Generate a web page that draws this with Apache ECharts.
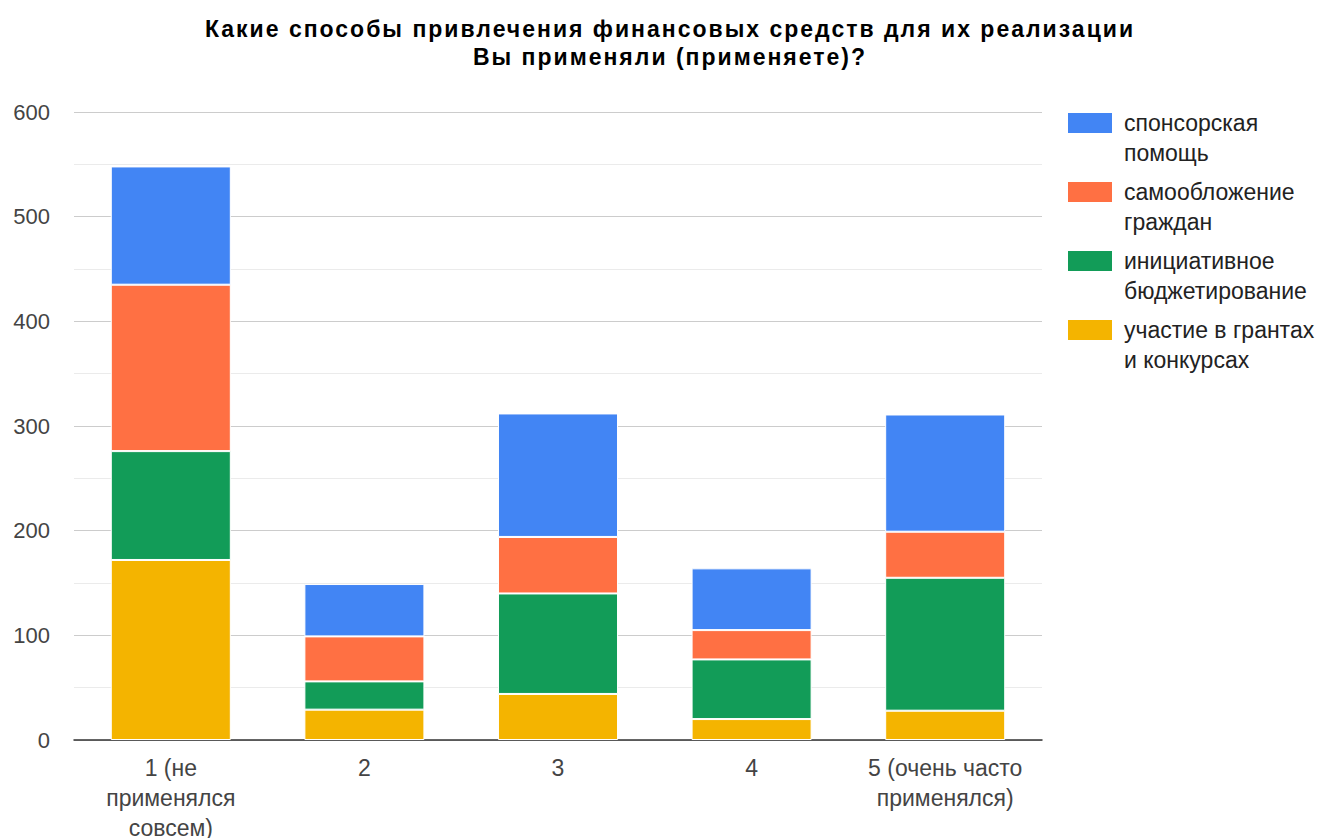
<!DOCTYPE html>
<html><head><meta charset="utf-8">
<script src="https://cdn.jsdelivr.net/npm/echarts@6/dist/echarts.min.js"></script>
<style>html,body{margin:0;padding:0;background:#fff;overflow:hidden}#c{width:1321px;height:838px}</style>
</head><body><div id="c"></div>
<script>
const categories = ['1 (не\nприменялся\nсовсем)', '2', '3', '4', '5 (очень часто\nприменялся)'];
const seriesNames = ['спонсорская\nпомощь', 'самообложение\nграждан', 'инициативное\nбюджетирование', 'участие в грантах\nи конкурсах'];
const sponsor = [113, 50, 118, 59, 112];
const selfTax = [159, 43, 54, 28, 44];
const initiative = [104, 27, 96, 57, 127];
const grants = [172, 29, 44, 20, 28];
const colors = ['#4285f4', '#ff7043', '#129c58', '#f4b400'];
const titleText = 'Какие способы привлечения финансовых средств для их реализации\nВы применяли (применяете)?';

const chart = echarts.init(document.getElementById('c'), null, {renderer: 'svg'});
const font = '"Liberation Sans", Arial, sans-serif';
function s(name, data, color) {
  return {name, type: 'bar', stack: 'a', data, barWidth: '62%',
    itemStyle: {color, borderColor: '#fff', borderWidth: 1}};
}
chart.setOption({
  animation: false,
  textStyle: {fontFamily: font},
  title: {text: titleText,
    left: 665, textAlign: 'center', top: 10,
    textStyle: {fontFamily: font, fontWeight: 'bold', fontSize: 23, lineHeight: 28, color: '#000'}},
  legend: {orient: 'vertical', left: 1066, top: 108, padding: 0, itemWidth: 46, itemHeight: 52, itemGap: 9,
    icon: 'path://M0,0h46v22h-46z M0,52h0.01v0.01h-0.01z', symbolKeepAspect: false,
    data: [seriesNames[0], seriesNames[1], seriesNames[2], seriesNames[3]],
    textStyle: {fontFamily: font, fontSize: 23, lineHeight: 30, color: '#222', padding: [0, 0, 0, 6]}},
  grid: {left: 74, right: 279, top: 112, bottom: 98, outerBoundsMode: 'none', containLabel: false},
  xAxis: {type: 'category', data: categories,
    axisLine: {lineStyle: {color: '#333', width: 1.5}}, axisTick: {show: false},
    axisLabel: {fontFamily: font, fontSize: 23, lineHeight: 30, color: '#444', margin: 13, interval: 0}},
  yAxis: {type: 'value', min: 0, max: 600, interval: 100,
    axisLine: {show: false}, axisTick: {show: false},
    axisLabel: {fontFamily: font, fontSize: 22, color: '#444', margin: 24},
    splitLine: {lineStyle: {color: '#cccccc', width: 1}},
    minorTick: {show: false, splitNumber: 2},
    minorSplitLine: {show: true, lineStyle: {color: '#ebebeb', width: 1}}},
  series: [
    s(seriesNames[3], grants, colors[3]),
    s(seriesNames[2], initiative, colors[2]),
    s(seriesNames[1], selfTax, colors[1]),
    s(seriesNames[0], sponsor, colors[0])
  ]
});
function spaceTitle() {
  const lines = titleText.split('\n');
  document.querySelectorAll('#c svg text, #c svg tspan').forEach(function (t) {
    if (lines.indexOf(t.textContent) >= 0) {
      t.style.letterSpacing = '2px';
    }
  });
}
spaceTitle();
chart.on('finished', spaceTitle);
</script></body></html>
